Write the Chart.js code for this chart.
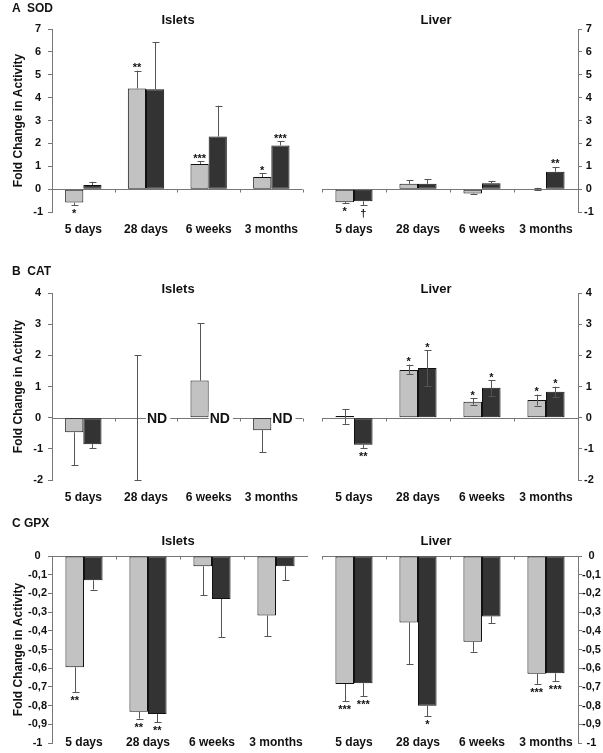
<!DOCTYPE html>
<html>
<head>
<meta charset="utf-8">
<script src="https://cdn.jsdelivr.net/npm/chart.js@4"></script>
<style>
body { margin: 0; background: #fff; font-family: Arial, "Liberation Sans", sans-serif; }
#wrap { position: relative; width: 603px; height: 753px; overflow: hidden; }
canvas { position: absolute; }
.lbl { position: absolute; font-weight: bold; color: #111; white-space: pre; line-height: 14px; }
.panel { font-size: 12px; left: 12px; }
.sub { font-size: 13px; transform: translateX(-50%); }
</style>
</head>
<body>
<div id="wrap">
  <canvas id="sodIslets"></canvas>
  <canvas id="sodLiver"></canvas>
  <canvas id="catIslets"></canvas>
  <canvas id="catLiver"></canvas>
  <canvas id="gpxIslets"></canvas>
  <canvas id="gpxLiver"></canvas>

  <div class="lbl panel" style="top:1px">A  SOD</div>
  <div class="lbl sub" style="left:178px;top:13px">Islets</div>
  <div class="lbl sub" style="left:436px;top:13px">Liver</div>

  <div class="lbl panel" style="top:264px">B  CAT</div>
  <div class="lbl sub" style="left:178px;top:282px">Islets</div>
  <div class="lbl sub" style="left:436px;top:282px">Liver</div>

  <div class="lbl panel" style="top:516px">C GPX</div>
  <div class="lbl sub" style="left:178px;top:534px">Islets</div>
  <div class="lbl sub" style="left:436px;top:534px">Liver</div>
</div>
<script>
const categories = ['5 days', '28 days', '6 weeks', '3 months'];

// A - SOD
const sodIsletsLight = [-0.59, 4.40, 1.10, 0.53];
const sodIsletsLightErr = [-0.69, 5.18, 1.22, 0.70];
const sodIsletsLightSig = ['*', '**', '***', '*'];
const sodIsletsDark = [0.18, 4.37, 2.30, 1.91];
const sodIsletsDarkErr = [0.32, 6.42, 3.65, 2.10];
const sodIsletsDarkSig = ['', '', '', '***'];

const sodLiverLight = [-0.57, 0.23, -0.19, 0.02];
const sodLiverLightErr = [-0.62, 0.40, -0.23, [-0.03, 0.06]];
const sodLiverLightSig = ['*', '', '', ''];
const sodLiverDark = [-0.53, 0.23, 0.26, 0.76];
const sodLiverDarkErr = [-0.69, 0.43, 0.34, 0.97];
const sodLiverDarkSig = ['\u2020', '', '', '**'];

// B - CAT (ND = not determined)
const catIsletsLight = [-0.47, 0, 1.19, -0.40];
const catIsletsLightErr = [-1.52, [-2, 2], 3.03, -1.11];
const catIsletsLightSig = ['', '', '', ''];
const catIsletsDark = [-0.85, null, null, null];
const catIsletsDarkErr = [-0.98, null, null, null];
const catIsletsDarkSig = ['', '', '', ''];
const catIsletsND = [false, true, true, true];

const catLiverLight = [0.05, 1.53, 0.51, 0.57];
const catLiverLightErr = [[-0.2, 0.28], [1.40, 1.70], [0.42, 0.62], [0.39, 0.74]];
const catLiverLightSig = ['', '*', '*', '*'];
const catLiverDark = [-0.87, 1.59, 0.96, 0.83];
const catLiverDarkErr = [-0.98, [1.02, 2.17], [0.71, 1.20], [0.65, 0.99]];
const catLiverDarkSig = ['**', '*', '*', '*'];

// C - GPX
const gpxIsletsLight = [-0.595, -0.833, -0.055, -0.318];
const gpxIsletsLightErr = [-0.727, -0.87, -0.21, -0.43];
const gpxIsletsLightSig = ['**', '**', '', ''];
const gpxIsletsDark = [-0.13, -0.845, -0.23, -0.055];
const gpxIsletsDarkErr = [-0.18, -0.888, -0.435, -0.13];
const gpxIsletsDarkSig = ['', '**', '', ''];

const gpxLiverLight = [-0.684, -0.355, -0.458, -0.63];
const gpxLiverLightErr = [-0.778, -0.579, -0.512, -0.684];
const gpxLiverLightSig = ['***', '', '', '***'];
const gpxLiverDark = [-0.68, -0.801, -0.323, -0.627];
const gpxLiverDarkErr = [-0.751, -0.858, -0.36, -0.671];
const gpxLiverDarkSig = ['***', '*', '', '***'];

Chart.defaults.font.family = 'Arial, "Liberation Sans", sans-serif';

const AXIS = '#777';
const INK = '#111';

// zero line, error bars, stars and ND labels
const marks = {
  id: 'marks',
  beforeDatasetsDraw(chart) {
    const { ctx, chartArea: a, scales: { y } } = chart;
    const side = chart.options.plugins.marks.side;
    const y0 = Math.round(y.getPixelForValue(0)) + 0.5;
    const w = (a.right - a.left) / categories.length;
    ctx.save();
    ctx.strokeStyle = AXIS;
    ctx.lineWidth = 1;
    ctx.beginPath();
    ctx.moveTo(a.left, y0);
    ctx.lineTo(a.right, y0);
    const start = side === 'left' ? 1 : 0;
    for (let i = start; i < start + 4; i++) {
      const tx = Math.round(a.left + i * w) + 0.5;
      ctx.moveTo(tx, y0);
      ctx.lineTo(tx, y0 + 3);
    }
    ctx.stroke();
    ctx.restore();
  },
  afterDatasetsDraw(chart) {
    const { ctx, scales: { y } } = chart;
    const nd = chart.options.plugins.marks.nd;
    ctx.save();
    chart.data.datasets.forEach((ds, di) => {
      const meta = chart.getDatasetMeta(di);
      ds.data.forEach((v, i) => {
        if (v === null) return;
        const bar = meta.data[i];
        const e = ds.err[i];
        let lo = v, hi = v, caps = [];
        if (Array.isArray(e)) { lo = e[0]; hi = e[1]; caps = e; }
        else if (e !== null) { if (e < v) lo = e; else hi = e; caps = [e]; }
        const bx = Math.round(bar.x) + 0.5;
        ctx.strokeStyle = '#555';
        ctx.lineWidth = 1;
        ctx.beginPath();
        ctx.moveTo(bx, y.getPixelForValue(lo));
        ctx.lineTo(bx, y.getPixelForValue(hi));
        caps.forEach(c => {
          const cy = Math.round(y.getPixelForValue(c)) + 0.5;
          ctx.moveTo(bx - 3, cy);
          ctx.lineTo(bx + 4, cy);
        });
        ctx.stroke();

        const s = ds.sig[i];
        if (s) {
          ctx.fillStyle = INK;
          ctx.font = 'bold 11px Arial, "Liberation Sans", sans-serif';
          ctx.textAlign = 'center';
          ctx.textBaseline = 'alphabetic';
          if (v < 0) ctx.fillText(s, bar.x, y.getPixelForValue(lo) + 12);
          else ctx.fillText(s, bar.x, y.getPixelForValue(hi) + 0.5);
        }
      });
    });

    if (nd) {
      const m0 = chart.getDatasetMeta(0);
      const y0 = y.getPixelForValue(0);
      ctx.font = 'bold 14px Arial, "Liberation Sans", sans-serif';
      nd.forEach((flag, i) => {
        if (!flag) return;
        const lb = m0.data[i];
        const x0 = lb.x + lb.width / 2 + 1;
        const tw = ctx.measureText('ND').width;
        ctx.fillStyle = '#fff';
        ctx.fillRect(x0 - 1, y0 - 6, tw + 4, 12);
        ctx.fillStyle = INK;
        ctx.textAlign = 'left';
        ctx.textBaseline = 'middle';
        ctx.fillText('ND', x0, y0 + 1);
      });
    }
    ctx.restore();
  }
};

function gpxFmt(v) {
  if (Math.abs(v) < 1e-9) return '0';
  if (Math.abs(v + 1) < 1e-9) return '-1';
  return v.toFixed(1).replace('.', ',');
}

function makeChart(id, cfg) {
  const canvas = document.getElementById(id);
  const isLeft = cfg.side === 'left';
  canvas.width = isLeft ? 308 : 295;
  canvas.height = cfg.height;
  canvas.style.left = (isLeft ? 0 : 308) + 'px';
  canvas.style.top = cfg.top + 'px';

  return new Chart(canvas.getContext('2d'), {
    type: 'bar',
    data: {
      labels: categories,
      datasets: [{
        data: cfg.light,
        err: cfg.lightErr,
        sig: cfg.lightSig,
        backgroundColor: '#c2c2c2',
        borderColor: INK,
        borderWidth: 1,
        borderSkipped: false,
        categoryPercentage: 0.58,
        barPercentage: 1
      }, {
        data: cfg.dark,
        err: cfg.darkErr,
        sig: cfg.darkSig,
        backgroundColor: '#333333',
        borderColor: INK,
        borderWidth: 1,
        borderSkipped: false,
        categoryPercentage: 0.58,
        barPercentage: 1
      }]
    },
    options: {
      responsive: false,
      animation: false,
      layout: { padding: { top: cfg.padTop, left: isLeft ? 0 : 14, right: 0, bottom: 0 } },
      plugins: {
        legend: { display: false },
        tooltip: { enabled: false },
        marks: { side: cfg.side, nd: cfg.nd || null }
      },
      scales: {
        x: {
          grid: { display: false, drawTicks: false },
          border: { display: false },
          ticks: {
            color: INK,
            font: { weight: 'bold', size: 12 },
            padding: cfg.xPad,
            mirror: !!cfg.xMirror,
            maxRotation: 0,
            autoSkip: false
          },
          afterFit: s => { s.height = cfg.xHeight; }
        },
        y: {
          position: cfg.side,
          min: cfg.min,
          max: cfg.max,
          ticks: {
            stepSize: cfg.step,
            color: INK,
            font: { weight: 'bold', size: 11 },
            padding: cfg.tickPad,
            crossAlign: 'center',
            callback: cfg.fmt || (v => v)
          },
          grid: { drawOnChartArea: false, drawTicks: true, tickLength: 4, color: AXIS },
          border: { display: true, color: AXIS, width: 1 },
          title: {
            display: isLeft,
            text: 'Fold Change in Activity',
            color: INK,
            font: { weight: 'bold', size: 12 },
            padding: { top: 11, bottom: 0 }
          },
          afterFit: s => { s.width = isLeft ? 52 : 25; }
        }
      }
    },
    plugins: [marks]
  });
}

const panelA = { top: 0, height: 245, padTop: 29, xHeight: 33, xPad: 10, min: -1, max: 7, step: 1 };
const panelB = { top: 245, height: 265, padTop: 48, xHeight: 30, xPad: 10, min: -2, max: 4, step: 1 };
// GPX: the category labels sit level with the -1 tick, so they are mirrored into the plot area
const panelC = { top: 505, height: 248, padTop: 51, xHeight: 10, xPad: -7, xMirror: true, min: -1, max: 0, step: 0.1, fmt: gpxFmt };

makeChart('sodIslets', { ...panelA, side: 'left', tickPad: 5,
  light: sodIsletsLight, lightErr: sodIsletsLightErr, lightSig: sodIsletsLightSig,
  dark: sodIsletsDark, darkErr: sodIsletsDarkErr, darkSig: sodIsletsDarkSig });
makeChart('sodLiver', { ...panelA, side: 'right', tickPad: 2,
  light: sodLiverLight, lightErr: sodLiverLightErr, lightSig: sodLiverLightSig,
  dark: sodLiverDark, darkErr: sodLiverDarkErr, darkSig: sodLiverDarkSig });

makeChart('catIslets', { ...panelB, side: 'left', tickPad: 5, nd: catIsletsND,
  light: catIsletsLight, lightErr: catIsletsLightErr, lightSig: catIsletsLightSig,
  dark: catIsletsDark, darkErr: catIsletsDarkErr, darkSig: catIsletsDarkSig });
makeChart('catLiver', { ...panelB, side: 'right', tickPad: 2,
  light: catLiverLight, lightErr: catLiverLightErr, lightSig: catLiverLightSig,
  dark: catLiverDark, darkErr: catLiverDarkErr, darkSig: catLiverDarkSig });

makeChart('gpxIslets', { ...panelC, side: 'left', tickPad: 1,
  light: gpxIsletsLight, lightErr: gpxIsletsLightErr, lightSig: gpxIsletsLightSig,
  dark: gpxIsletsDark, darkErr: gpxIsletsDarkErr, darkSig: gpxIsletsDarkSig });
makeChart('gpxLiver', { ...panelC, side: 'right', tickPad: 0,
  light: gpxLiverLight, lightErr: gpxLiverLightErr, lightSig: gpxLiverLightSig,
  dark: gpxLiverDark, darkErr: gpxLiverDarkErr, darkSig: gpxLiverDarkSig });
</script>
</body>
</html>
